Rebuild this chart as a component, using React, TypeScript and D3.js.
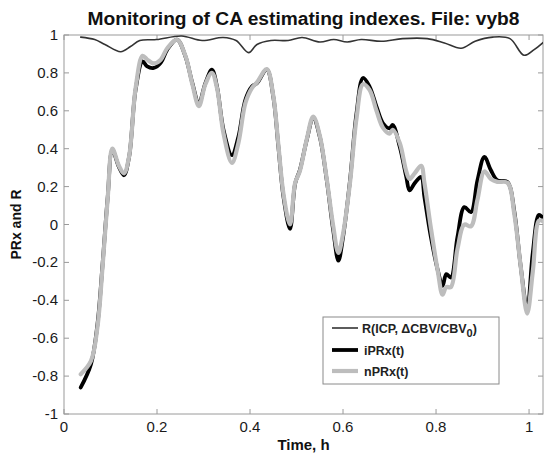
import React from "react";
import * as d3 from "d3";

const title = "Monitoring of CA estimating indexes. File: vyb8";
const xLabel = "Time, h";
const yLabel = "PRx and R";
const xTicks = [0, 0.2, 0.4, 0.6, 0.8, 1];
const yTicks = [-1, -0.8, -0.6, -0.4, -0.2, 0, 0.2, 0.4, 0.6, 0.8, 1];

const timePRx = [
  0.036, 0.058, 0.072, 0.083, 0.094, 0.104, 0.118, 0.129, 0.14, 0.154, 0.169, 0.179, 0.193, 0.208,
  0.222, 0.243, 0.261, 0.276, 0.29, 0.304, 0.318, 0.329, 0.343, 0.361, 0.375, 0.39, 0.404, 0.415,
  0.436, 0.45, 0.461, 0.472, 0.486, 0.497, 0.507, 0.522, 0.536, 0.55, 0.565, 0.579, 0.59, 0.6,
  0.615, 0.629, 0.643, 0.657, 0.672, 0.686, 0.7, 0.707, 0.722, 0.736, 0.743, 0.754, 0.768, 0.775,
  0.789, 0.804, 0.814, 0.822, 0.832, 0.846, 0.861, 0.875, 0.889, 0.904, 0.918, 0.932, 0.954, 0.968,
  0.982, 0.996, 1.008, 1.021, 1.028,
];
const iPRx = [
  -0.86, -0.737, -0.525, -0.207, 0.145, 0.393, 0.304, 0.26, 0.357, 0.711, 0.861, 0.834, 0.826, 0.853,
  0.923, 0.976, 0.888, 0.746, 0.64, 0.746, 0.817, 0.728, 0.499, 0.366, 0.463, 0.658, 0.728, 0.746,
  0.817, 0.675, 0.41, 0.145, -0.023, 0.216, 0.286, 0.446, 0.561, 0.463, 0.233, -0.032, -0.191, -0.067,
  0.233, 0.587, 0.773, 0.728, 0.622, 0.534, 0.508, 0.525, 0.41, 0.251, 0.18, 0.218, 0.251, 0.145,
  -0.067, -0.244, -0.324, -0.262, -0.28, -0.067, 0.092, 0.065, 0.233, 0.357, 0.286, 0.233, 0.224, 0.074,
  -0.22, -0.446, -0.15, 0.05, 0.04,
];
const nPRx = [
  -0.79, -0.72, -0.54, -0.22, 0.14, 0.4, 0.31, 0.27, 0.36, 0.72, 0.89, 0.87, 0.85, 0.87,
  0.93, 0.975, 0.89, 0.74, 0.625, 0.74, 0.8, 0.72, 0.48, 0.325, 0.43, 0.64, 0.72, 0.75,
  0.82, 0.68, 0.42, 0.16, 0.0, 0.22, 0.28, 0.45, 0.57, 0.47, 0.24, -0.01, -0.15, -0.05,
  0.22, 0.56, 0.74, 0.71, 0.6, 0.51, 0.48, 0.5, 0.43, 0.28, 0.24, 0.27, 0.31, 0.22,
  -0.02, -0.25, -0.37, -0.33, -0.33, -0.13, 0.0, -0.01, 0.13, 0.28, 0.24, 0.225, 0.22, 0.06,
  -0.22, -0.47, -0.25, 0.02, 0.02,
];

const timeR = [
  0.036, 0.066, 0.088, 0.122, 0.143, 0.163, 0.199, 0.253, 0.297, 0.342, 0.37, 0.397, 0.415, 0.445,
  0.482, 0.512, 0.55, 0.58, 0.609, 0.639, 0.683, 0.728, 0.781, 0.818, 0.854, 0.884, 0.922, 0.959,
  0.989, 1.011, 1.03,
];
const rValues = [
  0.989, 0.976, 0.95, 0.912, 0.939, 0.971, 0.976, 0.995, 0.971, 0.987, 0.971, 0.907, 0.95, 0.971,
  0.971, 0.987, 0.963, 0.976, 0.963, 0.976, 0.967, 0.981, 0.981, 0.958, 0.93, 0.967, 0.989, 0.981,
  0.893, 0.923, 0.96,
];

const legendLabels = ["iPRx(t)", "nPRx(t)"];

const W = 545;
const H = 455;
const left = 64;
const right = 543;
const top = 35;
const bottom = 414;
const font = "'Liberation Sans', Arial, Helvetica, sans-serif";

export default function App() {
  const x = d3.scaleLinear().domain([0, 1.03]).range([left, right]);
  const y = d3.scaleLinear().domain([-1, 1]).range([bottom, top]);
  const mk = (ts: number[], vs: number[]) =>
    d3
      .line<number>()
      .x((_, i) => x(ts[i]))
      .y((v) => y(v))
      .curve(d3.curveCatmullRom.alpha(0.5))(vs) || "";

  const axisColor = "#9a9a9a";
  const tickLen = 5;

  return (
    <div style={{ position: "absolute", left: 0, top: 0 }}>
      <svg width={W} height={H} style={{ display: "block", background: "#fff" }}>
        <defs>
          <clipPath id="plotclip">
            <rect x={left} y={top - 2} width={right - left} height={bottom - top + 4} />
          </clipPath>
        </defs>
        {/* title */}
        <text
          x={(left + right) / 2}
          y={25}
          textAnchor="middle"
          fontFamily={font}
          fontWeight="bold"
          fontSize={18}
          textLength={432}
          lengthAdjust="spacingAndGlyphs"
          fill="#111"
        >
          {title}
        </text>
        {/* axes box */}
        <rect x={left} y={top} width={right - left} height={bottom - top} fill="none" stroke={axisColor} strokeWidth={1} />
        {xTicks.map((t) => (
          <g key={"xt" + t}>
            <line x1={x(t)} x2={x(t)} y1={bottom} y2={bottom - tickLen} stroke={axisColor} />
            <line x1={x(t)} x2={x(t)} y1={top} y2={top + tickLen} stroke={axisColor} />
            <text x={x(t)} y={432} textAnchor="middle" fontFamily={font} fontSize={15} fill="#1a1a1a">
              {String(t)}
            </text>
          </g>
        ))}
        {yTicks.map((t) => (
          <g key={"yt" + t}>
            <line x1={left} x2={left + tickLen} y1={y(t)} y2={y(t)} stroke={axisColor} />
            <line x1={right} x2={right - tickLen} y1={y(t)} y2={y(t)} stroke={axisColor} />
            <text x={58} y={y(t) + 5} textAnchor="end" fontFamily={font} fontSize={15} fill="#1a1a1a">
              {String(t)}
            </text>
          </g>
        ))}
        <text x={(left + right) / 2} y={450} textAnchor="middle" fontFamily={font} fontWeight="bold" fontSize={15} fill="#111">
          {xLabel}
        </text>
        <text
          transform={`translate(20.5, ${(top + bottom) / 2}) rotate(-90)`}
          textAnchor="middle"
          fontFamily={font}
          fontWeight="bold"
          fontSize={14}
          fill="#111"
        >
          {yLabel}
        </text>
        {/* lines */}
        <g clipPath="url(#plotclip)" fill="none" strokeLinejoin="round" strokeLinecap="round">
          <path d={mk(timeR, rValues)} stroke="#333" strokeWidth={1.6} />
          <path d={mk(timePRx, iPRx)} stroke="#000" strokeWidth={3.8} />
          <path d={mk(timePRx, nPRx)} stroke="#bdbdbd" strokeWidth={4.2} />
        </g>
        {/* legend */}
        <g>
          <rect x={323} y={317} width={176} height={67} fill="#fff" stroke="#8a8a8a" strokeWidth={1} />
          <line x1={332} x2={358} y1={328} y2={328} stroke="#333" strokeWidth={1.6} />
          <line x1={332} x2={358} y1={350} y2={350} stroke="#000" strokeWidth={3.8} />
          <line x1={332} x2={358} y1={371} y2={371} stroke="#bdbdbd" strokeWidth={4.2} />
          <text x={362} y={332.5} fontFamily={font} fontWeight="bold" fontSize={12.5} fill="#222">
            R(ICP, ΔCBV/CBV
            <tspan fontSize={11} dy={4}>0</tspan>
            <tspan dy={-4}>)</tspan>
          </text>
          <text x={364} y={354.5} fontFamily={font} fontWeight="bold" fontSize={12.5} fill="#222">
            {legendLabels[0]}
          </text>
          <text x={364} y={375.5} fontFamily={font} fontWeight="bold" fontSize={12.5} fill="#222">
            {legendLabels[1]}
          </text>
        </g>
      </svg>
    </div>
  );
}
